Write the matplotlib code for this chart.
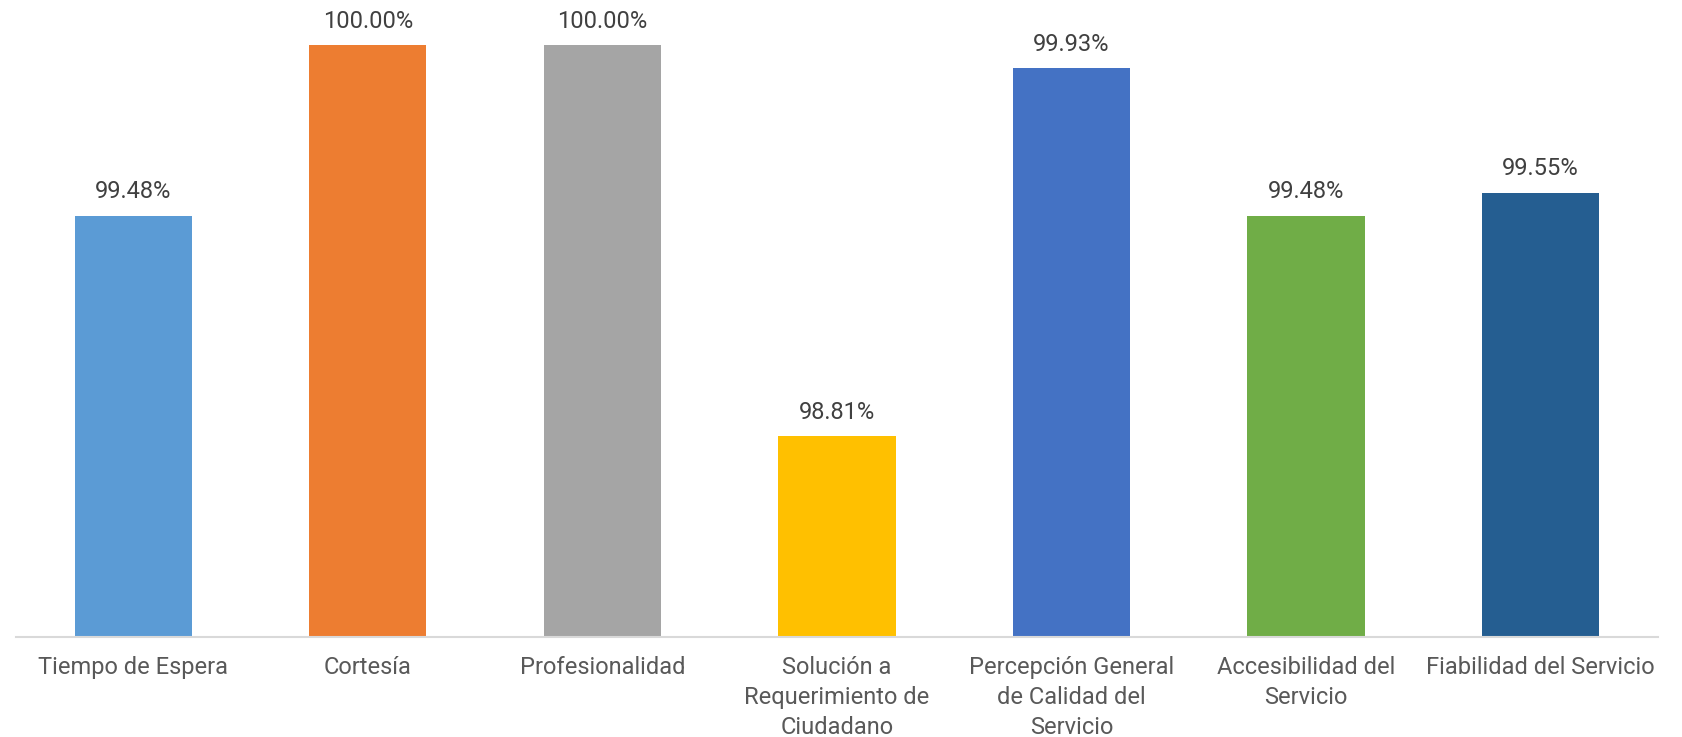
import matplotlib
matplotlib.use("Agg")
import matplotlib.pyplot as plt

categories = [
    "Tiempo de Espera",
    "Cortesía",
    "Profesionalidad",
    "Solución a\nRequerimiento de\nCiudadano",
    "Percepción General\nde Calidad del\nServicio",
    "Accesibilidad del\nServicio",
    "Fiabilidad del Servicio",
]
values = [99.48, 100.00, 100.00, 98.81, 99.93, 99.48, 99.55]
colors = ["#5B9BD5", "#ED7D31", "#A5A5A5", "#FFC000", "#4472C4", "#70AD47", "#255E91"]

plt.rcParams["font.family"] = ["Roboto", "DejaVu Sans"]

fig = plt.figure(figsize=(16.83, 7.37), dpi=100)
ax = fig.add_axes([0.0095, 0.1363, 0.9755, 0.8637])

x = list(range(len(categories)))
bars = ax.bar(x, values, width=0.5, color=colors, zorder=2)

for rect, v in zip(bars, values):
    ax.annotate(f"{v:.2f}%", (rect.get_x() + rect.get_width() / 2, v),
                xytext=(0, 9), textcoords="offset points",
                ha="center", va="bottom", fontsize=17, color="#404040")

ax.set_xlim(-0.5, len(categories) - 0.5)
ax.set_ylim(98.2, 100.137)
ax.set_xticks(x)
ax.set_xticklabels(categories, fontsize=17, color="#595959", linespacing=1.40)
ax.tick_params(axis="x", length=0, pad=14)
ax.set_yticks([])

for side in ("top", "right", "left"):
    ax.spines[side].set_visible(False)
ax.spines["bottom"].set_color("#D9D9D9")
ax.spines["bottom"].set_linewidth(1.5)

fig.savefig("out.png", dpi=100)
